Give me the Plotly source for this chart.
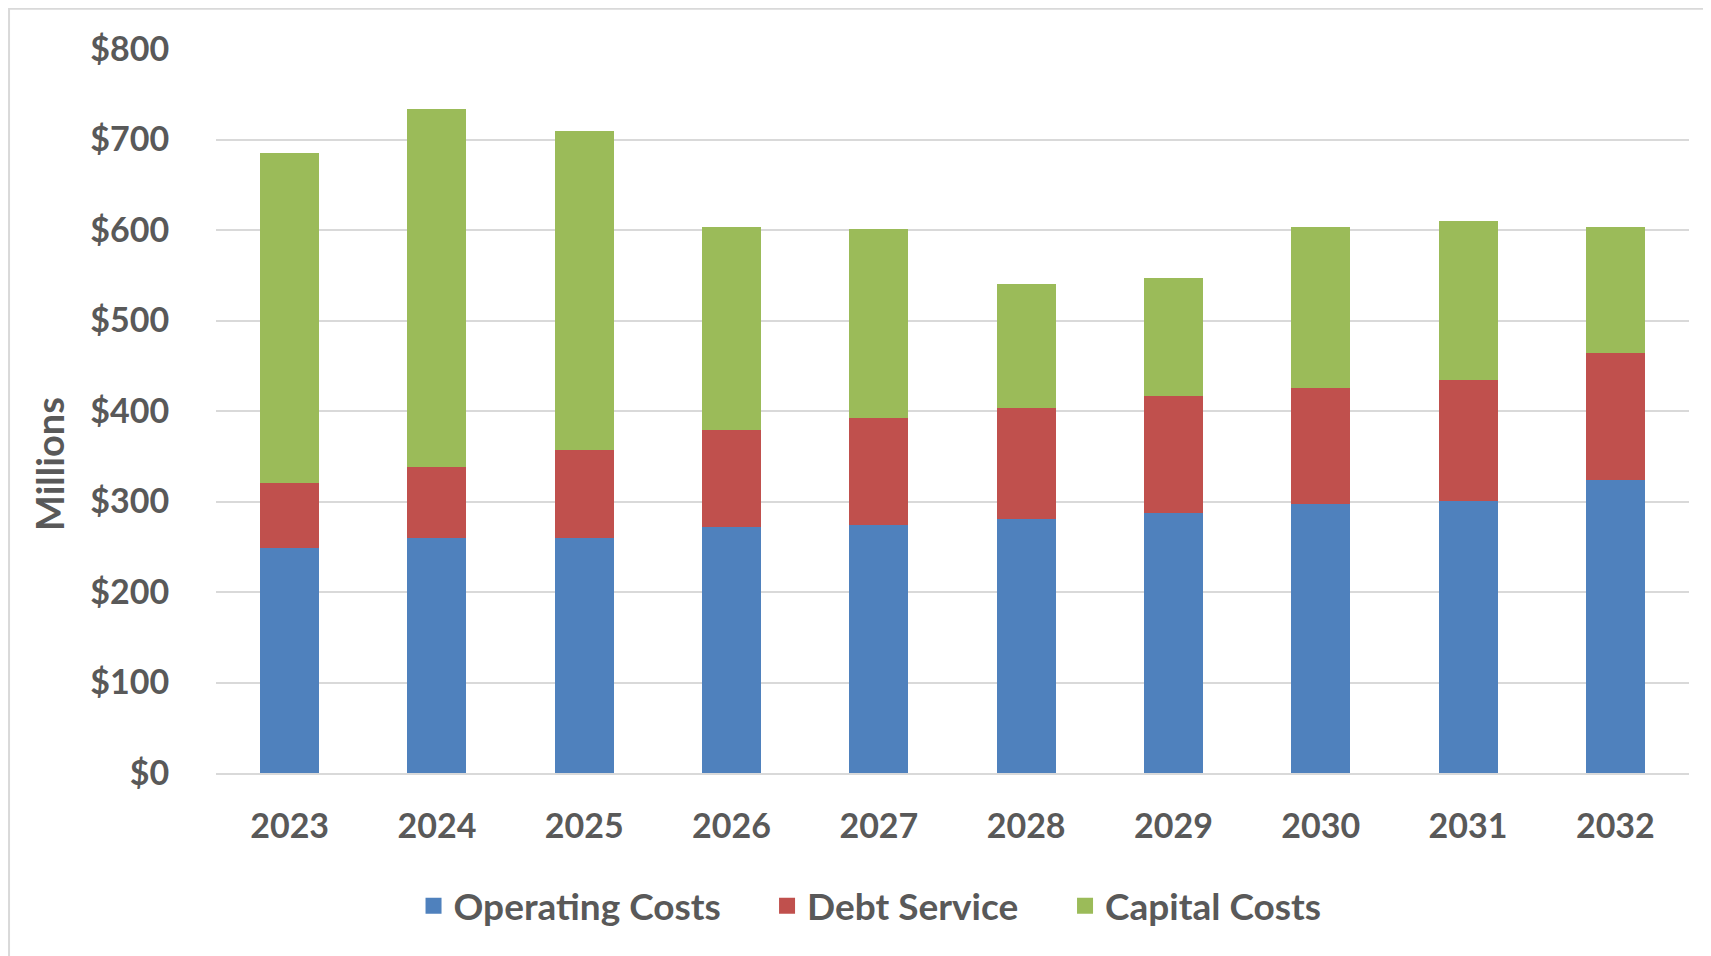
import plotly.graph_objects as go

years = ["2023", "2024", "2025", "2026", "2027", "2028", "2029", "2030", "2031", "2032"]
operating_costs = [249, 260, 260, 272, 274, 281, 287, 297, 301, 324]
debt_service_top = [321, 338, 357, 379, 392, 403, 417, 425, 434, 464]
capital_costs_top = [685, 734, 709, 603, 601, 540, 547, 603, 610, 603]

debt_service = [d - o for d, o in zip(debt_service_top, operating_costs)]
capital_costs = [c - d for c, d in zip(capital_costs_top, debt_service_top)]

series_names = ["Operating Costs", "Debt Service", "Capital Costs"]
series_colors = ["#4F81BD", "#C0504D", "#9BBB59"]

y_ticks = [0, 100, 200, 300, 400, 500, 600, 700, 800]
y_tick_labels = ["$0", "$100", "$200", "$300", "$400", "$500", "$600", "$700", "$800"]
y_title = "Millions"

text_color = "#595959"
font_family = "Lato"

fig = go.Figure()
for name, vals, col in zip(series_names, [operating_costs, debt_service, capital_costs], series_colors):
    fig.add_trace(go.Bar(x=years, y=vals, name=name, marker_color=col,
                         marker_line_width=0, showlegend=False))

# legend entries (one legend per entry so each can be placed like the original)
legend_ids = ["legend", "legend2", "legend3"]
legend_x = [0.1341, 0.3741, 0.5764]
for name, col, lid in zip(series_names, series_colors, legend_ids):
    fig.add_trace(go.Scatter(x=[None], y=[None], mode="markers", name=name,
                             marker=dict(symbol="square", size=20, color=col),
                             legend=lid, showlegend=True))

legend_common = dict(
    orientation="h",
    xanchor="left",
    y=-0.184,
    yanchor="middle",
    font=dict(size=37, color=text_color, family=font_family, weight="bold"),
    itemsizing="trace",
    bgcolor="rgba(0,0,0,0)",
)

fig.update_layout(
    barmode="stack",
    bargap=0.6,
    width=1711,
    height=956,
    margin=dict(l=208, r=30, t=41, b=191),
    paper_bgcolor="white",
    plot_bgcolor="white",
    font=dict(family=font_family, color=text_color, size=34, weight="bold"),
    legend=dict(x=legend_x[0], **legend_common),
    legend2=dict(x=legend_x[1], **legend_common),
    legend3=dict(x=legend_x[2], **legend_common),
    xaxis=dict(
        showgrid=False,
        showline=True,
        linecolor="#d9d9d9",
        linewidth=2,
        ticks="outside",
        ticklen=22,
        tickcolor="rgba(0,0,0,0)",
        tickfont=dict(size=34, color=text_color, family=font_family, weight="bold"),
    ),
    yaxis=dict(
        range=[0, 800],
        tickvals=y_ticks,
        ticktext=y_tick_labels,
        showgrid=True,
        gridcolor="#d9d9d9",
        gridwidth=2,
        zeroline=False,
        ticks="outside",
        ticklen=39,
        tickcolor="rgba(0,0,0,0)",
        tickfont=dict(size=34, color=text_color, family=font_family, weight="bold"),
    ),
    annotations=[
        dict(text=y_title, xref="paper", yref="paper", x=-0.1134, y=0.4268,
             xanchor="center", yanchor="middle", textangle=-90, showarrow=False,
             font=dict(size=38, color=text_color, family=font_family, weight="bold")),
    ],
    shapes=[
        dict(type="rect", xref="paper", yref="paper", x0=-0.1405, x1=1.2, y0=-0.5, y1=1.0555,
             line=dict(color="#d9d9d9", width=2), fillcolor="rgba(0,0,0,0)", layer="below"),
    ],
)

fig.write_html("out.html")
